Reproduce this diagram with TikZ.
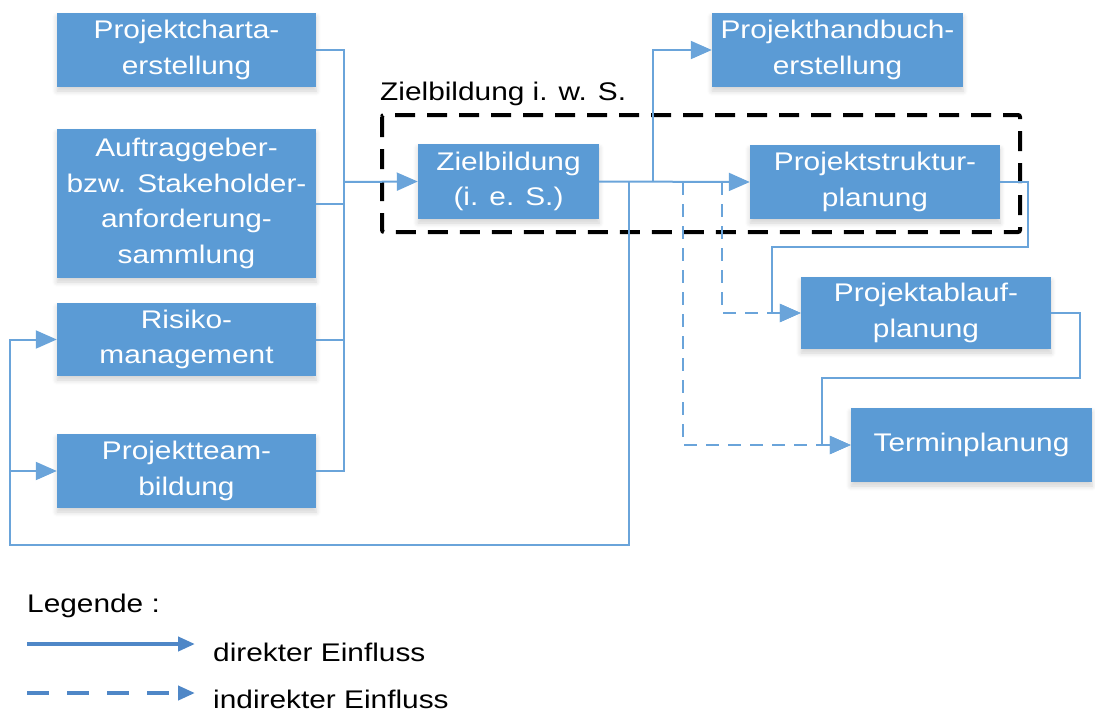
\documentclass[tikz,border=0pt]{standalone}
\usepackage{fontspec}
\setmainfont{Liberation Sans}[FakeStretch=1.17]
\usetikzlibrary{arrows.meta,shadows.blur}
\definecolor{boxblue}{HTML}{5B9BD5}
\definecolor{lineblue}{HTML}{6AA4DA}
\definecolor{legblue}{HTML}{4F87C7}
\tikzset{
  box/.style={fill=boxblue, text=white, align=center, inner sep=0pt,
    font=\fontsize{25.5}{35.5}\selectfont,
    blur shadow={shadow xshift=0pt, shadow yshift=-4pt, shadow blur radius=5pt,
      shadow blur steps=6, shadow opacity=18}},
  link/.style={draw=lineblue, line width=2pt, line join=miter},
  arrowlink/.style={link, -{Triangle[length=21pt,width=18pt]}},
  dashlink/.style={arrowlink, dash pattern=on 13pt off 9pt},
  label/.style={font=\fontsize{25.5}{30}\selectfont, inner sep=0pt, anchor=base west}
}
\begin{document}
\begin{tikzpicture}[x=1pt,y=-1pt]
\useasboundingbox (0,0) rectangle (1095,713);

% process boxes
\node[box, minimum width=259pt, minimum height=74pt]  (charta)   at (186.5,50)  {Projektcharta-\\erstellung};
\node[box, minimum width=259pt, minimum height=149pt] (auftrag)  at (186.5,203.5) {Auftraggeber-\\bzw. Stakeholder-\\anforderung-\\sammlung};
\node[box, minimum width=259pt, minimum height=73pt]  (risiko)   at (186.5,339.5) {Risiko-\\management};
\node[box, minimum width=259pt, minimum height=74pt]  (team)     at (186.5,471) {Projektteam-\\bildung};
\node[box, minimum width=181pt, minimum height=75pt]  (ziel)     at (508.5,181.5) {Zielbildung\\(i. e. S.)};
\node[box, minimum width=251pt, minimum height=74pt]  (handbuch) at (837.5,50) {Projekthandbuch-\\erstellung};
\node[box, minimum width=250pt, minimum height=74pt]  (struktur) at (875,182) {Projektstruktur-\\planung};
\node[box, minimum width=250pt, minimum height=72pt]  (ablauf)   at (926,313) {Projektablauf-\\planung};
\node[box, minimum width=241pt, minimum height=74pt]  (termin)   at (971.5,445) {Terminplanung};

% group frame
\draw[black, line width=4pt, dash pattern=on 20pt off 12pt, rounded corners=2pt]
  (382,115) rectangle (1020,232);
\node[label] (gruppe) at (380,100) {Zielbildung i. w. S.};

% inputs into goal setting
\coordinate (joinL) at (344,182);
\draw[link] (charta.east) -| (joinL);
\draw[link] (auftrag.east) -| (joinL);
\draw[link] (risiko.east) -| (joinL);
\draw[link] (team.east) -| (joinL);
\draw[arrowlink] (joinL) -- (ziel.west);

% outputs of goal setting
\coordinate (splitH) at (653,182);
\coordinate (fb) at (629,182);
\coordinate (fbL) at (10,545);
\coordinate (dA) at (722,182);
\coordinate (dT) at (683,182);
\draw[arrowlink] (ziel.east) -- (struktur.west);
\draw[arrowlink] (splitH) |- (handbuch.west);
\draw[arrowlink] (fb) |- (fbL) |- (risiko.west);
\draw[arrowlink] (fbL) |- (team.west);

% planning chain
\draw[dashlink] (dA) |- (ablauf.west);
\draw[dashlink] (dT) |- (termin.west);
\draw[arrowlink] (struktur.east) -- (1028,182) -- (1028,247) -- (772,247) |- (ablauf.west);
\draw[arrowlink] (ablauf.east) -- (1080,313) -- (1080,378) -- (822,378) |- (termin.west);

% legend
\node[label] (legende) at (27,612) {Legende :};
\coordinate (l1a) at (27,644);
\coordinate (l1b) at (195,644);
\coordinate (l2a) at (27,693);
\coordinate (l2b) at (195,693);
\draw[draw=legblue, line width=4pt, -{Triangle[length=17pt,width=14pt]}] (l1a) -- (l1b);
\draw[draw=legblue, line width=4pt, dash pattern=on 22pt off 18pt, -{Triangle[length=17pt,width=14pt]}] (l2a) -- (l2b);
\node[label] (direkt) at (213,661) {direkter Einfluss};
\node[label] (indirekt) at (213,708) {indirekter Einfluss};
\end{tikzpicture}
\end{document}
